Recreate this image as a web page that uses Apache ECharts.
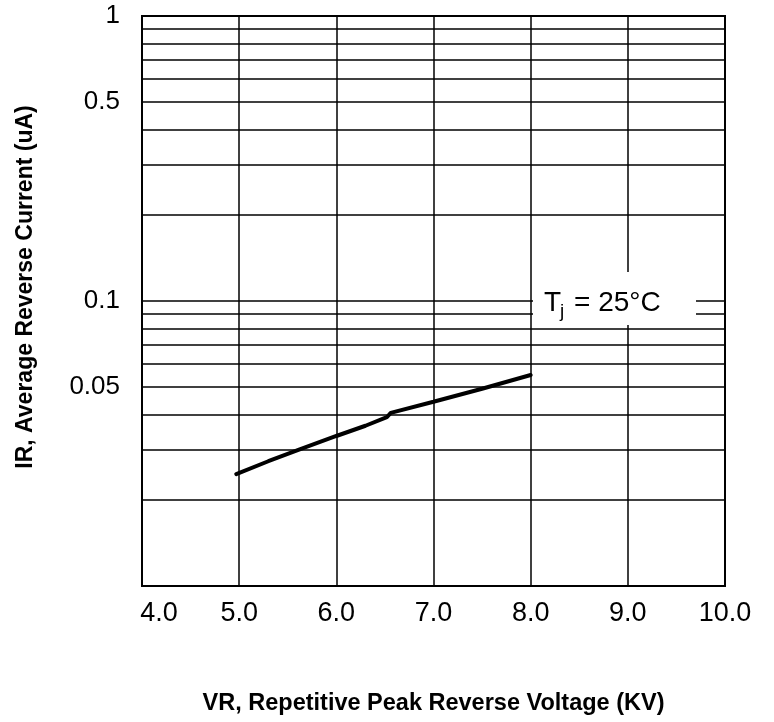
<!DOCTYPE html>
<html>
<head>
<meta charset="utf-8">
<script src="https://cdn.jsdelivr.net/npm/echarts@6/dist/echarts.min.js"></script>
<style>html,body{margin:0;padding:0;background:#fff}#c{width:774px;height:722px}</style>
</head>
<body>
<div id="c"></div>
<script>
// Data
var voltageKV = [4.97, 5.3, 5.63, 6.0, 6.3, 6.52, 6.56, 7.0, 7.5, 8.0];
var currentUA = [0.0247, 0.0274, 0.0302, 0.0336, 0.0365, 0.0391, 0.0405, 0.0443, 0.0492, 0.0550];
var yLabelValues = [0.05, 0.1, 0.5, 1];
var yGridValues = [0.02, 0.03, 0.04, 0.05, 0.06, 0.07, 0.08, 0.09, 0.1, 0.2, 0.3, 0.4, 0.5, 0.6, 0.7, 0.8, 0.9, 1];
var xMin = 4, xMax = 10, xStep = 1;

var FONT = '"Liberation Sans", Arial, sans-serif';
var chart = echarts.init(document.getElementById('c'));
var pts = voltageKV.map(function (x, i) { return [x, currentUA[i]]; });

chart.setOption({
  animation: false,
  backgroundColor: '#fff',
  grid: { left: 142, right: 49, top: 16, bottom: 136, show: true, borderColor: '#000', borderWidth: 2, backgroundColor: 'transparent' },
  xAxis: {
    type: 'value', min: xMin, max: xMax, interval: xStep,
    name: 'VR, Repetitive Peak Reverse Voltage (KV)',
    nameLocation: 'middle', nameGap: 106,
    nameTextStyle: { fontFamily: FONT, fontWeight: 'bold', fontSize: 23.5, color: '#000', padding: [0, 0, 0, 0] },
    axisLine: { show: true, lineStyle: { color: '#000', width: 2 } },
    axisTick: { show: false },
    splitLine: { show: true, lineStyle: { color: '#000', width: 1.5 } },
    axisLabel: { fontFamily: FONT, fontSize: 27, color: '#000', margin: 14,
      formatter: function (v) { return v === xMin ? '{first|' + v.toFixed(1) + '}' : v.toFixed(1); },
      rich: { first: { fontFamily: FONT, fontSize: 27, color: '#000', padding: [0, 0, 0, 34] } } }
  },
  yAxis: {
    type: 'log', logBase: 10, min: 0.01, max: 1,
    name: 'IR, Average Reverse Current (uA)',
    nameLocation: 'middle', nameGap: 105, nameRotate: 90,
    nameTextStyle: { fontFamily: FONT, fontWeight: 'bold', fontSize: 23, color: '#000', padding: [0, 0, 0, 28] },
    axisLine: { show: true, lineStyle: { color: '#000', width: 2 } },
    axisTick: { show: false },
    splitLine: { show: false },
    minorSplitLine: { show: false },
    axisLabel: { fontFamily: FONT, fontSize: 26, color: '#000', margin: 22,
      customValues: yLabelValues,
      formatter: function (v) { return String(Number(Number(v).toPrecision(3))); } }
  },
  series: [{
    type: 'line',
    data: pts,
    symbol: 'none',
    lineStyle: { color: '#000', width: 4, cap: 'round' },
    z: 6,
    markLine: {
      silent: true, symbol: ['none', 'none'], animation: false,
      label: { show: false },
      lineStyle: { color: '#000', width: 1.5, type: 'solid' },
      data: yGridValues.map(function (v) { return { yAxis: v }; })
    }
  }],
  graphic: [
    { type: 'rect', z: 100, shape: { x: 533, y: 272, width: 163, height: 53 }, style: { fill: '#fff' } },
    { type: 'text', z: 101, x: 544, y: 303, style: { text: 'T', font: '28px ' + FONT, fill: '#000', verticalAlign: 'middle' } },
    { type: 'text', z: 101, x: 560, y: 312, style: { text: 'j', font: '19px ' + FONT, fill: '#000', verticalAlign: 'middle' } },
    { type: 'text', z: 101, x: 574, y: 303, style: { text: '= 25°C', font: '28px ' + FONT, fill: '#000', verticalAlign: 'middle' } }
  ]
});
</script>
</body>
</html>
